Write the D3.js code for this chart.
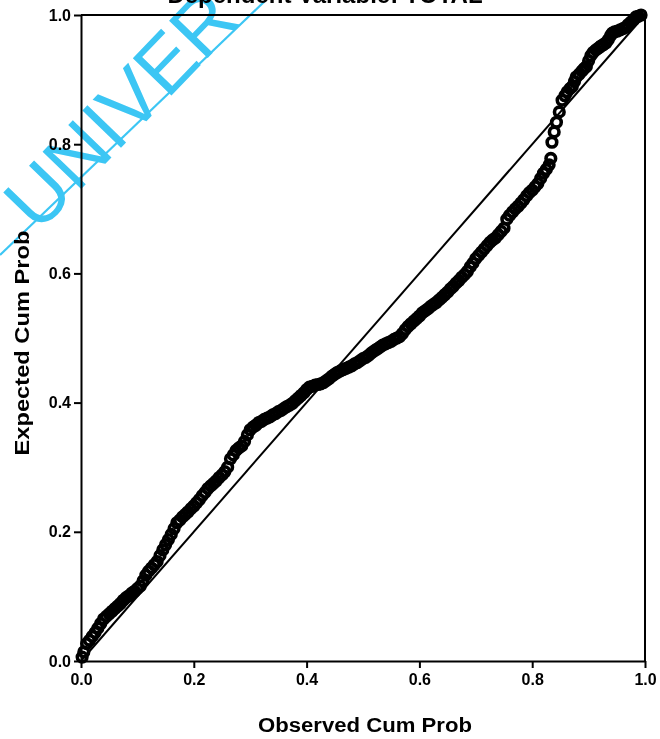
<!DOCTYPE html>
<html>
<head>
<meta charset="utf-8">
<script src="https://cdn.jsdelivr.net/npm/d3@7"></script>
<style>
  html, body { margin: 0; padding: 0; background: #fff; }
  svg { display: block; }
  text { font-family: "Liberation Sans", Arial, sans-serif; }
</style>
</head>
<body>
<svg id="chart" width="660" height="739"></svg>
<script>
// ---- data ----
const titleText = "Dependent Variable: TOTAL";
const xLabel = "Observed Cum Prob";
const yLabel = "Expected Cum Prob";
const xTicks = [0.0, 0.2, 0.4, 0.6, 0.8, 1.0];
const yTicks = [0.0, 0.2, 0.4, 0.6, 0.8, 1.0];
const diagonal = [0, 1];

const observed = [
  0.002, 0.005, 0.010, 0.015, 0.020, 0.025, 0.030, 0.035, 0.040, 0.045, 0.050,
  0.055, 0.060, 0.065, 0.070, 0.075, 0.080, 0.085, 0.090, 0.095, 0.100,
  0.105, 0.110, 0.115, 0.120, 0.125, 0.130, 0.135, 0.140, 0.145, 0.150,
  0.155, 0.160, 0.165, 0.170, 0.175, 0.180, 0.185, 0.190, 0.195, 0.200,
  0.205, 0.210, 0.215, 0.220, 0.225, 0.230, 0.235, 0.240, 0.245, 0.250,
  0.255, 0.260, 0.265, 0.270, 0.275, 0.280, 0.285, 0.290, 0.295, 0.300,
  0.305, 0.310, 0.315, 0.320, 0.325, 0.330, 0.335, 0.340, 0.345, 0.350,
  0.355, 0.360, 0.365, 0.370, 0.375, 0.380, 0.385, 0.390, 0.395, 0.400,
  0.405, 0.410, 0.415, 0.420, 0.425, 0.430, 0.435, 0.440, 0.445, 0.450,
  0.455, 0.460, 0.465, 0.470, 0.475, 0.480, 0.485, 0.490, 0.495, 0.500,
  0.505, 0.510, 0.515, 0.520, 0.525, 0.530, 0.535, 0.540, 0.545, 0.550,
  0.555, 0.560, 0.565, 0.570, 0.575, 0.580, 0.585, 0.590, 0.595, 0.600,
  0.605, 0.610, 0.615, 0.620, 0.625, 0.630, 0.635, 0.640, 0.645, 0.650,
  0.655, 0.660, 0.665, 0.670, 0.675, 0.680, 0.685, 0.690, 0.695, 0.700,
  0.705, 0.710, 0.715, 0.720, 0.725, 0.730, 0.735, 0.740, 0.745, 0.750,
  0.755, 0.760, 0.765, 0.770, 0.775, 0.780, 0.785, 0.790, 0.795, 0.800,
  0.805, 0.810, 0.815, 0.820, 0.825, 0.830, 0.833, 0.835, 0.839, 0.843,
  0.848, 0.853, 0.858, 0.862, 0.867, 0.871, 0.875, 0.878, 0.883, 0.888,
  0.892, 0.896, 0.900, 0.904, 0.908, 0.913, 0.918, 0.922, 0.926, 0.931,
  0.935, 0.939, 0.942, 0.946, 0.951, 0.956, 0.961, 0.966, 0.970, 0.975,
  0.980, 0.984, 0.988, 0.993
];
const expected = [
  0.006, 0.014, 0.027, 0.032, 0.038, 0.044, 0.051, 0.058, 0.065, 0.069, 0.073,
  0.077, 0.081, 0.085, 0.089, 0.094, 0.098, 0.101, 0.105, 0.108, 0.112,
  0.116, 0.124, 0.133, 0.139, 0.144, 0.149, 0.154, 0.163, 0.172, 0.180,
  0.188, 0.196, 0.205, 0.214, 0.218, 0.223, 0.227, 0.231, 0.236, 0.240,
  0.245, 0.250, 0.256, 0.261, 0.267, 0.271, 0.275, 0.279, 0.284, 0.288,
  0.293, 0.300, 0.313, 0.319, 0.326, 0.330, 0.333, 0.340, 0.350, 0.358,
  0.362, 0.365, 0.369, 0.371, 0.374, 0.376, 0.378, 0.381, 0.383, 0.386,
  0.388, 0.391, 0.394, 0.396, 0.399, 0.403, 0.407, 0.411, 0.415, 0.420,
  0.424, 0.425, 0.427, 0.428, 0.429, 0.431, 0.434, 0.437, 0.441, 0.444,
  0.447, 0.449, 0.451, 0.453, 0.455, 0.457, 0.460, 0.462, 0.465, 0.468,
  0.470, 0.473, 0.477, 0.480, 0.483, 0.486, 0.489, 0.491, 0.493, 0.495,
  0.498, 0.500, 0.502, 0.507, 0.513, 0.518, 0.522, 0.526, 0.530, 0.534,
  0.539, 0.542, 0.545, 0.549, 0.552, 0.555, 0.559, 0.563, 0.567, 0.571,
  0.576, 0.580, 0.585, 0.589, 0.594, 0.598, 0.603, 0.610, 0.616, 0.623,
  0.628, 0.633, 0.638, 0.643, 0.648, 0.652, 0.655, 0.660, 0.665, 0.670,
  0.684, 0.690, 0.695, 0.700, 0.704, 0.709, 0.714, 0.720, 0.725, 0.729,
  0.734, 0.739, 0.747, 0.755, 0.761, 0.768, 0.778, 0.803, 0.819, 0.834,
  0.850, 0.868, 0.875, 0.881, 0.886, 0.889, 0.897, 0.904, 0.908, 0.913,
  0.917, 0.920, 0.929, 0.937, 0.942, 0.946, 0.949, 0.952, 0.954, 0.957,
  0.962, 0.968, 0.972, 0.974, 0.975, 0.977, 0.979, 0.981, 0.985, 0.989,
  0.993, 0.997, 0.998, 1.000
];

// ---- drawing ----
const svg = d3.select("#chart");
const margin = { left: 81, right: 15, top: 15, bottom: 78 };
const W = 660, H = 739;

const x = d3.scaleLinear().domain([0, 1]).range([margin.left, W - margin.right]);
const y = d3.scaleLinear().domain([0, 1]).range([H - margin.bottom, margin.top]);

const points = observed.map((o, i) => ({ o, e: expected[i] }));

// title (cut at the top edge, as in the reference)
svg.append("text")
  .attr("x", 325).attr("y", 3)
  .attr("text-anchor", "middle")
  .attr("font-size", 24).attr("font-weight", "bold")
  .text(titleText);

// frame top/right
svg.append("line")
  .attr("x1", x(0)).attr("x2", x(1)).attr("y1", y(1)).attr("y2", y(1))
  .attr("stroke", "#000").attr("stroke-width", 2);
svg.append("line")
  .attr("x1", x(1)).attr("x2", x(1)).attr("y1", y(1)).attr("y2", y(0))
  .attr("stroke", "#000").attr("stroke-width", 2);

// axes
const gx = svg.append("g")
  .attr("transform", `translate(0,${y(0)})`)
  .call(d3.axisBottom(x).tickValues(xTicks).tickFormat(d3.format(".1f")).tickSize(7).tickSizeOuter(0).tickPadding(6));
const gy = svg.append("g")
  .attr("transform", `translate(${x(0)},0)`)
  .call(d3.axisLeft(y).tickValues(yTicks).tickFormat(d3.format(".1f")).tickSize(7).tickSizeOuter(0).tickPadding(3));

[gx, gy].forEach(g => {
  g.select(".domain").attr("stroke", "#000").attr("stroke-width", 2);
  g.selectAll(".tick line").attr("stroke", "#000").attr("stroke-width", 2);
  g.selectAll(".tick text")
    .attr("fill", "#000")
    .attr("font-size", 16)
    .attr("font-weight", "bold")
    .attr("font-family", "'Liberation Sans', Arial, sans-serif");
});

// diagonal reference line
svg.append("path")
  .datum(diagonal)
  .attr("d", d3.line().x(d => x(d)).y(d => y(d)))
  .attr("stroke", "#000").attr("stroke-width", 2).attr("fill", "none");

// points (open circles, heavily overlapping)
svg.append("g")
  .selectAll("circle")
  .data(points)
  .join("circle")
  .attr("cx", d => x(d.o))
  .attr("cy", d => y(d.e))
  .attr("r", 4.8)
  .attr("fill", "none")
  .attr("stroke", "#000")
  .attr("stroke-width", 3.6);

// axis titles
svg.append("text")
  .attr("x", 365).attr("y", 732)
  .attr("text-anchor", "middle")
  .attr("font-size", 20).attr("font-weight", "bold")
  .attr("textLength", 214).attr("lengthAdjust", "spacingAndGlyphs")
  .text(xLabel);

svg.append("text")
  .attr("transform", "translate(29,343) rotate(-90)")
  .attr("text-anchor", "middle")
  .attr("font-size", 20).attr("font-weight", "bold")
  .attr("textLength", 225).attr("lengthAdjust", "spacingAndGlyphs")
  .text(yLabel);

// watermark
const wm = svg.append("g").style("mix-blend-mode", "multiply");
wm.append("line")
  .attr("x1", 0).attr("y1", 255).attr("x2", 266).attr("y2", 0)
  .attr("stroke", "#3cc6f4").attr("stroke-width", 2.2);
wm.append("text")
  .attr("transform", "translate(140,128) rotate(-46)")
  .attr("text-anchor", "middle")
  .attr("font-size", 78)
  .attr("fill", "#3cc6f4")
  .text("UNIVER");
</script>
</body>
</html>
